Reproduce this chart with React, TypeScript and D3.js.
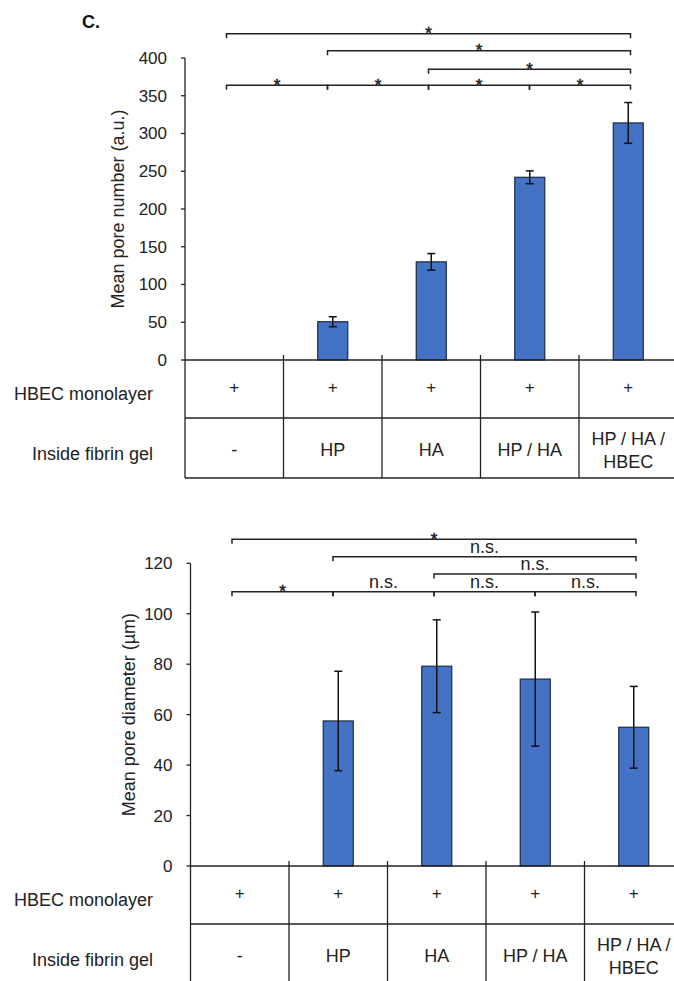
import React from 'react';
import * as d3 from 'd3';

const categories = ['-', 'HP', 'HA', 'HP / HA', 'HP / HA / HBEC'];
const monolayer = ['+', '+', '+', '+', '+'];
const fibrinLines = [['-'], ['HP'], ['HA'], ['HP / HA'], ['HP / HA /', 'HBEC']];

// pore number (a.u.)
const numberMeans = [null, 50.7, 130, 242, 314];
const numberErrors = [null, 6.6, 11, 8.5, 27];
const numberTicks = [0, 50, 100, 150, 200, 250, 300, 350, 400];
// [from, to, label, level]
const numberSig: [number, number, string, number][] = [
  [0, 1, '*', 364], [1, 2, '*', 364], [2, 3, '*', 364], [3, 4, '*', 364],
  [2, 4, '*', 385], [1, 4, '*', 409.7], [0, 4, '*', 432.2],
];

// pore diameter (µm)
const diameterMeans = [null, 57.5, 79.2, 74.1, 55];
const diameterErrors = [null, 19.7, 18.4, 26.6, 16.2];
const diameterTicks = [0, 20, 40, 60, 80, 100, 120];
const diameterSig: [number, number, string, number][] = [
  [0, 1, '*', 108.7], [1, 2, 'n.s.', 108.7], [2, 3, 'n.s.', 108.7], [3, 4, 'n.s.', 108.7],
  [2, 4, 'n.s.', 115.8], [1, 4, 'n.s.', 122.6], [0, 4, '*', 129.5],
];

const font = "Arial, 'Liberation Sans', sans-serif";
const ink = '#222';

function Panel(props) {
  const { axisX, zeroY, topY, yMax, ticks, means, errors, sig, ylabel, labelX } = props;
  const colW = 98.5;
  const x = d3.scaleBand().domain(categories).range([axisX, axisX + colW * categories.length]);
  const bx = d3.scalePoint().domain(categories).range([axisX + 41.5, axisX + 445.5]);
  const y = d3.scaleLinear().domain([0, yMax]).range([zeroY, topY]);
  const cx = (c) => x(c) + x.bandwidth() / 2;
  const barW = 30;

  return (
    <g fontFamily={font} fill={ink}>
      {/* y axis */}
      <line x1={axisX} x2={axisX} y1={y(yMax)} y2={zeroY} stroke={ink} strokeWidth={1.3} />
      {ticks.map((t) => (
        <g key={t}>
          <line x1={axisX - 4} x2={axisX} y1={y(t)} y2={y(t)} stroke={ink} strokeWidth={1.3} />
          <text x={axisX - 18} y={y(t)} dy="0.35em" textAnchor="end" fontSize={17}>{t}</text>
        </g>
      ))}
      <text
        transform={`translate(${labelX},${(y(yMax) + zeroY) / 2}) rotate(-90)`}
        textAnchor="middle"
        fontSize={18}
      >{ylabel}</text>

      {/* bars */}
      {categories.map((c, i) => means[i] == null ? null : (
        <g key={c}>
          <rect x={cx(c) - barW / 2} y={y(means[i])} width={barW} height={zeroY - y(means[i])}
            fill="#4472C4" stroke="#1c2a44" strokeWidth={1.2} />
          <line x1={cx(c)} x2={cx(c)} y1={y(means[i] + errors[i])} y2={y(means[i] - errors[i])}
            stroke="#111" strokeWidth={1.5} />
          <line x1={cx(c) - 4} x2={cx(c) + 4} y1={y(means[i] + errors[i])} y2={y(means[i] + errors[i])}
            stroke="#111" strokeWidth={1.5} />
          <line x1={cx(c) - 4} x2={cx(c) + 4} y1={y(means[i] - errors[i])} y2={y(means[i] - errors[i])}
            stroke="#111" strokeWidth={1.5} />
        </g>
      ))}

      {/* table */}
      <line x1={axisX} x2={674} y1={zeroY} y2={zeroY} stroke={ink} strokeWidth={1.5} />
      <line x1={axisX} x2={674} y1={zeroY + 58} y2={zeroY + 58} stroke={ink} strokeWidth={1.5} />
      <line x1={axisX} x2={674} y1={zeroY + 118} y2={zeroY + 118} stroke={ink} strokeWidth={1.5} />
      <line x1={axisX} x2={axisX} y1={zeroY} y2={zeroY + 118} stroke={ink} strokeWidth={1.3} />
      {categories.slice(1).map((c) => (
        <line key={c} x1={x(c)} x2={x(c)} y1={zeroY - 5} y2={zeroY + 118} stroke={ink} strokeWidth={1.3} />
      ))}
      <text x={153} y={zeroY + 40} textAnchor="end" fontSize={18}>HBEC monolayer</text>
      <text x={153} y={zeroY + 100} textAnchor="end" fontSize={18}>Inside fibrin gel</text>
      {categories.map((c, i) => (
        <g key={c}>
          <text x={cx(c)} y={zeroY + 33} textAnchor="middle" fontSize={17}>{monolayer[i]}</text>
          {fibrinLines[i].map((s, k) => (
            <text key={k} x={cx(c)} textAnchor="middle" fontSize={18}
              y={fibrinLines[i].length === 1 ? zeroY + 96 : zeroY + 85 + k * 23}>{s}</text>
          ))}
        </g>
      ))}

      {/* significance brackets */}
      {sig.map(([a, b, label, level], k) => {
        const x1 = bx(categories[a]);
        const x2 = bx(categories[b]);
        const ly = y(level);
        const star = label === '*';
        return (
          <g key={k}>
            <path d={`M${x1},${ly + 4.5}V${ly}H${x2}V${ly + 4.5}`} fill="none" stroke={ink} strokeWidth={1.5} />
            <text x={(x1 + x2) / 2} y={star ? ly + 5.5 : ly - 3.5} textAnchor="middle"
              fontSize={star ? 17 : 18} fill="#222"
              stroke={star ? '#222' : 'none'} strokeWidth={star ? 0.5 : 0}>{label}</text>
          </g>
        );
      })}
    </g>
  );
}

export default function App() {
  return (
    <svg width={674} height={981} style={{ position: 'absolute', left: 0, top: 0, background: '#fff' }}>
      <rect width={674} height={981} fill="#fff" />
      <text x={82} y={28} fontFamily={font} fontWeight="bold" fontSize={18} fill="#111">C.</text>
      <Panel axisX={185} zeroY={360} topY={58} yMax={400} ticks={numberTicks}
        means={numberMeans} errors={numberErrors} sig={numberSig}
        ylabel="Mean pore number (a.u.)" labelX={124} />
      <Panel axisX={190.5} zeroY={866} topY={563.3} yMax={120} ticks={diameterTicks}
        means={diameterMeans} errors={diameterErrors} sig={diameterSig}
        ylabel="Mean pore diameter (µm)" labelX={135} />
    </svg>
  );
}
